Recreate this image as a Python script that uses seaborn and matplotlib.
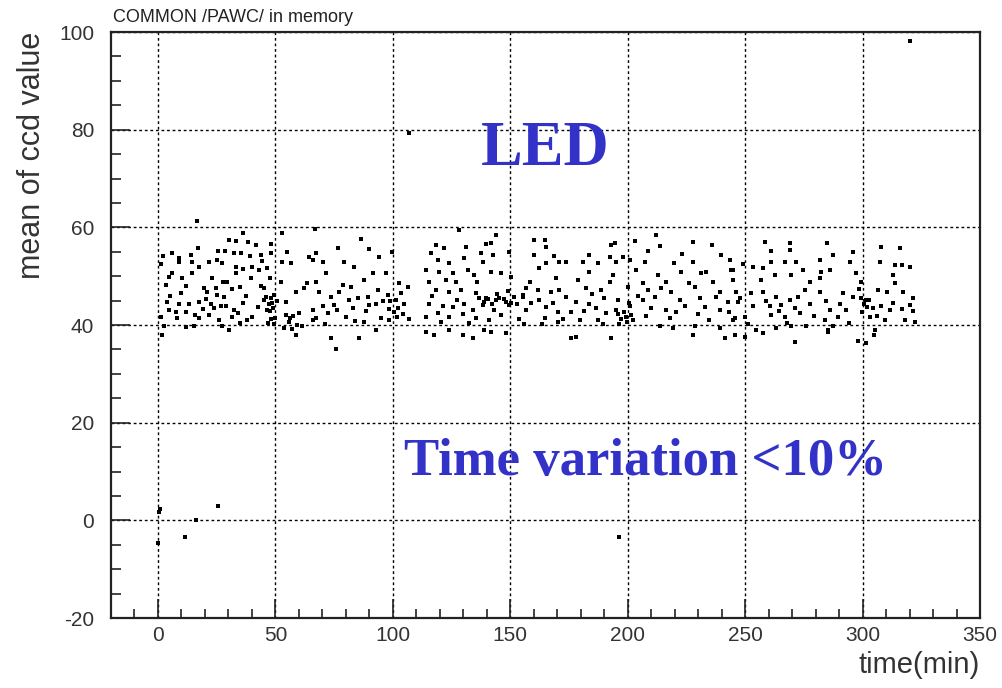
import matplotlib
matplotlib.use("Agg")
import matplotlib.pyplot as plt
import seaborn as sns
import pandas as pd
from matplotlib.ticker import MultipleLocator, FixedLocator

# ---------------- data (time in min, mean of ccd value) ----------------
seg_0_50 = [
    (36.2, 58.9), (30.3, 57.4), (33.1, 57.1), (41.6, 56.4), (38.5, 56.9), (48.0, 56.6),
    (17.2, 55.7), (25.6, 55.2), (28.6, 55.2), (13.9, 54.3), (6.1, 54.7), (2.0, 54.1),
    (9.0, 53.8), (39.0, 54.2), (43.8, 54.3), (32.4, 54.7), (35.2, 54.7), (25.3, 53.4),
    (21.7, 53.0), (9.0, 52.8), (14.3, 53.0), (44.4, 53.2), (48.0, 54.7), (17.5, 51.9),
    (1.1, 52.5), (33.1, 51.9), (27.4, 52.6), (36.2, 51.4), (40.2, 51.9), (46.6, 51.6),
    (5.8, 50.7), (4.7, 49.8), (14.6, 50.6), (10.4, 49.6), (23.2, 49.6), (27.6, 48.9),
    (29.5, 48.9), (33.1, 50.6), (39.5, 49.6), (43.0, 51.3), (47.7, 49.6), (3.3, 48.2),
    (11.8, 47.9), (9.7, 46.6), (19.6, 47.5), (21.0, 46.8), (24.6, 47.5), (25.3, 46.1),
    (28.1, 45.8), (31.4, 47.3), (34.8, 47.8), (45.2, 47.5), (48.0, 45.5), (4.0, 44.8),
    (9.0, 44.4), (13.2, 44.3), (17.5, 44.8), (22.4, 44.4), (23.9, 43.4), (26.7, 43.8),
    (32.4, 43.1), (36.2, 44.6), (45.2, 45.1), (48.7, 44.6), (1.1, 41.7), (4.7, 43.1),
    (8.2, 41.4), (12.1, 42.7), (15.6, 42.0), (17.5, 41.4), (21.7, 42.0), (26.0, 41.0),
    (31.4, 41.7), (34.2, 42.4), (38.1, 41.0), (40.2, 41.7), (48.0, 41.2), (2.6, 39.7),
    (11.8, 39.5), (15.3, 39.7), (27.4, 39.8), (30.3, 39.0), (1.8, 38.0),
    (46.0, 45.8), (47.2, 44.2), (49.0, 43.5), (46.5, 43.0), (49.5, 46.2), (47.8, 42.8),
    (50.5, 45.0), (50.0, 41.5), (46.8, 40.5), (49.2, 40.2), (5.2, 46.0), (7.5, 42.6),
    (19.0, 43.2), (20.3, 45.4), (29.0, 43.9), (35.0, 40.4), (37.6, 45.9), (42.4, 43.6),
    (44.0, 47.9),
]
seg_50_69 = [
    (53.0, 58.8), (55.1, 55.0), (52.7, 53.0), (56.5, 52.6), (64.3, 54.0), (67.2, 54.7),
    (63.6, 48.5), (52.3, 48.9), (58.7, 46.8), (62.2, 47.5), (54.4, 44.8), (56.1, 41.4),
    (60.1, 42.4), (65.8, 43.1), (53.7, 39.3), (58.7, 38.0), (61.5, 39.7), (65.8, 41.0),
    (54.5, 42.0), (55.8, 40.6), (57.5, 41.9), (59.2, 40.0), (56.9, 39.2),
]
seg_65_108 = [
    (86.4, 57.7), (76.5, 55.7), (65.8, 53.3), (70.1, 53.0), (79.3, 52.8), (83.6, 51.9),
    (90.0, 55.5), (94.2, 53.9), (99.6, 55.0), (91.4, 50.7), (97.1, 50.6), (67.2, 48.9),
    (71.5, 50.6), (78.6, 48.2), (82.2, 47.8), (87.8, 49.2), (93.5, 47.2), (102.8, 48.5),
    (106.3, 47.8), (68.7, 46.8), (73.6, 45.8), (77.2, 46.8), (85.0, 45.5), (89.3, 45.8),
    (97.8, 46.1), (101.3, 45.1), (70.1, 43.8), (75.0, 44.1), (82.9, 43.4), (90.0, 44.1),
    (92.8, 44.4), (102.0, 43.4), (104.9, 44.4), (67.2, 41.4), (72.2, 42.4), (80.0, 41.7),
    (87.8, 40.7), (94.9, 41.4), (98.5, 41.0), (107.0, 41.2), (73.6, 37.3), (75.8, 35.0),
    (85.7, 37.4), (92.8, 39.0),
    (99.0, 44.9), (100.5, 42.6), (101.8, 41.6), (103.5, 46.5), (98.2, 43.3), (104.5, 42.3),
    (71.0, 40.3), (76.2, 43.0), (81.5, 45.1), (84.0, 40.8), (88.6, 42.8), (95.8, 45.0),
]
seg_113_156 = [
    (118.4, 56.4), (121.9, 55.7), (116.3, 54.8), (128.3, 59.5), (131.2, 56.0), (139.7, 56.6),
    (141.8, 56.8), (144.0, 58.4), (137.6, 54.7), (142.5, 54.3), (119.1, 53.4), (124.1, 52.6),
    (130.5, 53.7), (138.3, 53.0), (149.6, 55.0), (114.1, 51.3), (119.8, 50.9), (125.5, 50.6),
    (131.9, 51.3), (134.7, 50.2), (141.8, 50.9), (146.1, 50.6), (150.3, 49.9), (115.5, 48.9),
    (122.6, 49.2), (126.9, 48.9), (118.4, 47.2), (124.1, 46.8), (129.0, 47.2), (135.4, 46.5),
    (139.7, 45.5), (143.9, 45.1), (148.2, 44.8), (151.8, 45.8), (155.3, 46.1), (115.5, 44.4),
    (121.2, 43.9), (125.5, 43.6), (130.5, 44.4), (134.0, 43.1), (138.3, 44.1), (143.2, 43.1),
    (149.6, 44.1), (114.1, 41.7), (119.1, 42.4), (124.1, 41.7), (129.7, 42.3), (135.4, 41.4),
    (141.1, 41.0), (146.1, 42.0), (153.9, 41.2), (114.1, 38.6), (117.7, 38.0), (124.1, 39.0),
    (129.7, 38.0), (134.0, 37.3), (139.0, 39.0), (141.8, 38.6), (148.2, 38.3),
    (136.8, 45.6), (138.9, 44.7), (140.6, 45.3), (142.3, 44.3), (145.0, 45.6), (147.2, 45.3),
    (150.4, 44.6), (152.8, 44.2), (144.2, 46.4), (149.0, 46.9), (116.8, 45.9), (120.5, 40.6),
    (127.2, 45.1), (132.6, 40.4), (136.0, 48.8),
]
seg_155_245 = [
    (160.3, 57.5), (164.6, 57.5), (165.3, 56.0), (193.0, 56.4), (194.4, 56.8), (202.9, 57.1),
    (212.1, 58.4), (213.6, 56.2), (227.8, 56.9), (236.0, 56.4), (160.3, 54.3), (168.8, 54.1),
    (183.7, 54.3), (192.3, 54.0), (197.9, 54.0), (208.6, 55.2), (223.2, 54.5), (239.8, 54.3),
    (243.4, 53.3), (162.4, 51.6), (165.3, 52.6), (170.9, 52.8), (173.8, 53.0), (180.9, 53.0),
    (187.3, 52.6), (195.1, 53.0), (200.8, 53.3), (207.2, 52.8), (219.9, 52.6), (227.8, 52.8),
    (231.3, 50.7), (233.4, 50.9), (183.7, 50.9), (193.7, 50.2), (203.6, 51.3), (212.8, 50.2),
    (222.8, 50.9), (244.1, 51.3), (158.2, 48.9), (169.5, 49.6), (178.8, 49.2), (192.3, 48.9),
    (206.5, 48.5), (216.4, 48.9), (226.3, 48.5), (236.3, 48.9), (156.7, 47.5), (161.7, 47.2),
    (167.4, 46.8), (170.9, 47.2), (182.3, 47.5), (188.7, 47.2), (200.1, 47.8), (208.6, 47.2),
    (214.3, 47.5), (218.5, 46.8), (228.5, 47.8), (239.1, 46.8), (155.3, 45.8), (162.4, 45.1),
    (173.8, 45.8), (178.1, 44.8), (183.7, 44.4), (190.1, 45.5), (195.8, 45.1), (206.5, 45.1),
    (222.1, 45.1), (230.6, 45.5), (242.7, 44.8), (156.7, 43.1), (165.3, 43.6), (170.2, 42.7),
    (175.9, 42.7), (186.6, 43.4), (195.1, 43.1), (200.8, 43.8), (210.0, 43.4), (216.4, 43.1),
    (220.7, 42.7), (232.7, 43.6), (239.1, 43.1), (156.0, 40.3), (164.6, 41.4), (170.2, 40.7),
    (179.5, 41.0), (187.3, 41.0), (190.8, 42.4), (199.4, 41.7), (202.2, 41.0), (213.6, 39.7),
    (219.2, 39.3), (228.5, 39.7), (239.1, 39.3), (244.8, 41.0), (175.9, 37.3), (178.1, 37.6),
    (193.0, 37.3), (227.8, 38.0), (241.3, 37.3),
    (195.8, 42.2), (197.0, 41.3), (198.4, 42.6), (199.9, 40.7), (201.2, 42.1), (196.5, 40.2),
    (200.5, 44.6), (158.8, 44.5), (163.5, 40.2), (168.0, 44.6), (172.6, 41.3), (181.5, 42.9),
    (185.0, 46.3), (189.6, 40.2), (204.5, 46.0), (207.6, 41.8), (211.5, 45.8), (217.8, 41.5),
    (224.5, 43.9), (229.9, 42.3), (234.5, 41.0), (237.7, 45.8), (243.0, 42.6),
]
seg_244_322 = [
    (258.3, 56.9), (269.0, 56.8), (269.0, 55.3), (284.9, 56.7), (308.0, 56.0), (315.8, 55.7),
    (261.2, 55.2), (249.1, 52.4), (261.2, 52.8), (266.8, 52.8), (271.8, 52.8), (287.4, 54.3),
    (295.8, 55.0), (294.5, 53.0), (281.8, 53.4), (307.3, 53.0), (313.7, 52.3), (316.6, 52.3),
    (320.1, 51.9), (244.8, 51.3), (253.3, 51.9), (257.6, 51.6), (274.7, 51.3), (282.5, 50.9),
    (286.0, 51.3), (297.4, 50.6), (313.0, 50.2), (269.7, 50.2), (262.6, 50.2), (244.8, 49.2),
    (256.9, 49.2), (277.5, 48.9), (281.8, 49.6), (299.5, 48.9), (313.7, 48.7), (246.2, 46.8),
    (252.6, 46.5), (257.6, 46.8), (263.3, 45.8), (269.0, 45.1), (275.4, 47.2), (281.8, 46.8),
    (291.7, 46.5), (295.8, 45.8), (301.6, 45.1), (306.6, 47.2), (310.2, 46.8), (317.3, 46.8),
    (321.5, 45.6), (246.9, 44.8), (253.3, 43.8), (260.4, 43.8), (265.4, 44.1), (271.1, 43.4),
    (277.5, 44.4), (286.0, 43.1), (293.1, 43.1), (304.5, 43.4), (308.0, 43.8), (311.6, 43.1),
    (321.5, 42.9), (245.5, 41.4), (249.8, 41.7), (261.2, 42.0), (266.8, 41.7), (273.2, 42.4),
    (283.9, 41.0), (289.6, 41.7), (303.1, 41.7), (309.5, 41.0), (318.0, 41.0), (322.2, 40.7),
    (254.8, 39.0), (263.3, 39.3), (269.7, 39.7), (276.1, 39.7), (285.3, 39.0), (287.4, 39.7),
    (305.2, 39.0), (245.5, 38.0), (249.8, 37.6), (257.6, 38.3), (271.1, 36.6), (285.3, 38.6),
    (298.1, 36.8), (301.6, 36.4), (304.7, 38.0),
    (299.2, 45.6), (300.4, 44.3), (301.9, 43.7), (302.8, 45.2), (299.9, 42.6), (298.6, 47.4),
    (248.0, 45.5), (251.2, 40.2), (259.0, 44.9), (264.6, 42.9), (268.0, 40.5), (272.7, 45.8),
    (279.2, 41.9), (284.6, 45.0), (290.5, 44.4), (294.3, 40.5), (306.0, 41.8), (313.0, 44.6),
    (316.8, 43.3), (320.0, 44.1),
]
outliers = [
    (0.4, 1.8), (0.8, 2.3), (25.7, 2.9), (11.5, -3.4), (0.1, -4.6), (16.0, 0.0),
    (107.0, 79.3), (320.1, 98.2), (196.5, -3.4), (16.6, 61.3), (66.9, 59.7),
]

x_ticks = [0, 50, 100, 150, 200, 250, 300, 350]
y_ticks = [-20, 0, 20, 40, 60, 80, 100]

title_text = "COMMON /PAWC/ in memory"
x_title = "time(min)"
y_title = "mean of ccd value"
note_led = "LED"
note_var = "Time variation <10%"

# ---------------- figure ----------------
sns.set_theme(style="white")
plt.rcParams["font.family"] = ["Liberation Sans", "DejaVu Sans"]

W, H = 1002, 688
fig = plt.figure(figsize=(W / 100, H / 100), dpi=100)
fig.patch.set_facecolor("white")
ax = fig.add_axes([111 / W, 1 - 618 / H, (980 - 111) / W, (618 - 32) / H])

pts = seg_0_50 + seg_50_69 + seg_65_108 + seg_113_156 + seg_155_245 + seg_244_322 + outliers
df = pd.DataFrame(pts, columns=["time", "mean"])
sns.scatterplot(data=df, x="time", y="mean", marker="s", s=11, color="black",
                linewidth=0, ax=ax, legend=False, zorder=3)

ax.set_xlim(-20, 350)
ax.set_ylim(-20, 100)
ax.xaxis.set_major_locator(FixedLocator(x_ticks))
ax.yaxis.set_major_locator(FixedLocator(y_ticks))
ax.xaxis.set_minor_locator(MultipleLocator(10))
ax.yaxis.set_minor_locator(MultipleLocator(5))
ax.set_xticklabels([str(v) for v in x_ticks])
ax.set_yticklabels([str(v) for v in y_ticks])
ax.set_xlabel("")
ax.set_ylabel("")

ax.grid(True, which="major", color="black", linestyle=(0, (2, 2)), linewidth=1.0)
ax.grid(False, which="minor")
ax.set_axisbelow(True)

for s in ax.spines.values():
    s.set_visible(True)
    s.set_color("#222222")
    s.set_linewidth(1.6)

ax.tick_params(axis="x", which="major", direction="in", length=14, width=1.2,
               color="#222222", labelsize=15, labelcolor="#333333", pad=6,
               bottom=True, top=False)
ax.tick_params(axis="x", which="minor", direction="in", length=6.5, width=1.2,
               color="#222222", bottom=True, top=False)
ax.tick_params(axis="y", which="major", direction="in", length=14, width=1.2,
               color="#222222", labelsize=15, labelcolor="#333333", pad=12,
               left=True, right=False)
ax.tick_params(axis="y", which="minor", direction="in", length=7, width=1.2,
               color="#222222", left=True, right=False)

fig.text(113 / W, 1 - 18 / H, title_text, ha="left", va="center", fontsize=13, color="#222222")
fig.text(980 / W, 1 - 665 / H, x_title, ha="right", va="center", fontsize=21, color="#333333")
fig.text(32 / W, 1 - 32 / H, y_title, ha="center", va="top", rotation=90, fontsize=22, color="#333333")

fig.text(545 / W, 1 - 150 / H, note_led, ha="center", va="center", fontsize=45,
         fontweight="bold", family=["Liberation Serif", "DejaVu Serif"], color="#3232c8")
fig.text(645 / W, 1 - 462 / H, note_var, ha="center", va="center", fontsize=38,
         fontweight="bold", family=["Liberation Serif", "DejaVu Serif"], color="#3232c8")

fig.savefig("out.png", dpi=100, facecolor="white")
